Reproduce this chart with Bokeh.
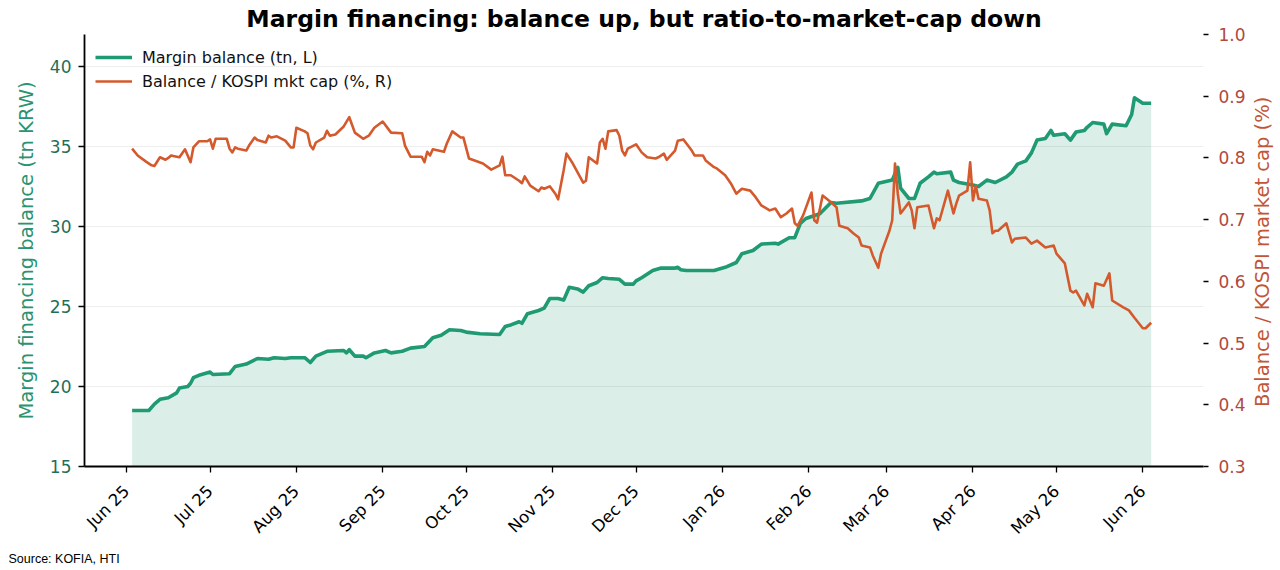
import math
from datetime import datetime, timedelta

from bokeh.plotting import figure
from bokeh.layouts import row
from bokeh.models import (Range1d, LinearAxis, FixedTicker, DatetimeTickFormatter,
                          PrintfTickFormatter, Title, Div)
from bokeh.embed import file_html
from bokeh.resources import INLINE

# ---------------- data ----------------
bal_dates = [
    "2025-06-03", "2025-06-09", "2025-06-11", "2025-06-13", "2025-06-16", "2025-06-19",
    "2025-06-20", "2025-06-23", "2025-06-24", "2025-06-25", "2025-06-27", "2025-07-01",
    "2025-07-02", "2025-07-08", "2025-07-10", "2025-07-14", "2025-07-18", "2025-07-22",
    "2025-07-24", "2025-07-28", "2025-07-30", "2025-08-04", "2025-08-06", "2025-08-08",
    "2025-08-12", "2025-08-18", "2025-08-19", "2025-08-20", "2025-08-22", "2025-08-25",
    "2025-08-26", "2025-08-29", "2025-09-02", "2025-09-04", "2025-09-08", "2025-09-11",
    "2025-09-16", "2025-09-19", "2025-09-22", "2025-09-25", "2025-09-29", "2025-10-01",
    "2025-10-06", "2025-10-13", "2025-10-15", "2025-10-17", "2025-10-20", "2025-10-21",
    "2025-10-23", "2025-10-27", "2025-10-29", "2025-10-31", "2025-11-03", "2025-11-05",
    "2025-11-06", "2025-11-07", "2025-11-10", "2025-11-12", "2025-11-14", "2025-11-17",
    "2025-11-19", "2025-11-21", "2025-11-25", "2025-11-27", "2025-11-30", "2025-12-01",
    "2025-12-03", "2025-12-07", "2025-12-10", "2025-12-15", "2025-12-16", "2025-12-17",
    "2025-12-19", "2025-12-29", "2026-01-02", "2026-01-06", "2026-01-08", "2026-01-12",
    "2026-01-15", "2026-01-20", "2026-01-21", "2026-01-25", "2026-01-27", "2026-01-29",
    "2026-01-31", "2026-02-05", "2026-02-09", "2026-02-11", "2026-02-20", "2026-02-23",
    "2026-02-26", "2026-03-03", "2026-03-05", "2026-03-06", "2026-03-09", "2026-03-11",
    "2026-03-13", "2026-03-16", "2026-03-18", "2026-03-19", "2026-03-24", "2026-03-25",
    "2026-03-27", "2026-04-01", "2026-04-03", "2026-04-06", "2026-04-09", "2026-04-13",
    "2026-04-15", "2026-04-17", "2026-04-20", "2026-04-22", "2026-04-24", "2026-04-27",
    "2026-04-29", "2026-04-30", "2026-05-04", "2026-05-06", "2026-05-08", "2026-05-11",
    "2026-05-12", "2026-05-14", "2026-05-18", "2026-05-19", "2026-05-21", "2026-05-26",
    "2026-05-28", "2026-05-29", "2026-06-01", "2026-06-04",
]
bal_values = [
    18.5, 18.5, 18.9, 19.2, 19.3, 19.6,
    19.9, 20.0, 20.2, 20.55, 20.7, 20.9,
    20.75, 20.8, 21.25, 21.4, 21.75, 21.7,
    21.8, 21.75, 21.8, 21.8, 21.5, 21.9,
    22.2, 22.25, 22.1, 22.3, 21.9, 21.9,
    21.8, 22.1, 22.25, 22.1, 22.2, 22.4,
    22.5, 23.05, 23.2, 23.55, 23.5, 23.4,
    23.3, 23.25, 23.75, 23.85, 24.05, 23.95,
    24.55, 24.75, 24.9, 25.5, 25.5, 25.4,
    25.8, 26.2, 26.1, 25.9, 26.3, 26.5,
    26.8, 26.75, 26.7, 26.4, 26.4, 26.6,
    26.8, 27.25, 27.4, 27.4, 27.45, 27.3,
    27.25, 27.25, 27.45, 27.75, 28.3, 28.5,
    28.9, 28.95, 28.9, 29.3, 29.3, 30.2,
    30.5, 30.8, 31.5, 31.45, 31.6, 31.75,
    32.7, 32.9, 33.7, 32.4, 31.75, 31.75,
    32.7, 33.1, 33.4, 33.3, 33.4, 32.9,
    32.75, 32.6, 32.5, 32.9, 32.75, 33.1,
    33.4, 33.9, 34.1, 34.6, 35.4, 35.5,
    36.0, 35.7, 35.8, 35.4, 35.9, 36.0,
    36.2, 36.5, 36.4, 35.8, 36.4, 36.3,
    37.0, 38.05, 37.7, 37.7,
]

ratio_dates = [
    "2025-06-03", "2025-06-05", "2025-06-08", "2025-06-10", "2025-06-11", "2025-06-13",
    "2025-06-15", "2025-06-16", "2025-06-17", "2025-06-19", "2025-06-20", "2025-06-22",
    "2025-06-24", "2025-06-25", "2025-06-27", "2025-06-30", "2025-07-01", "2025-07-02",
    "2025-07-03", "2025-07-07", "2025-07-08", "2025-07-09", "2025-07-10", "2025-07-11",
    "2025-07-14", "2025-07-15", "2025-07-17", "2025-07-18", "2025-07-21", "2025-07-22",
    "2025-07-23", "2025-07-25", "2025-07-28", "2025-07-30", "2025-07-31", "2025-08-01",
    "2025-08-04", "2025-08-05", "2025-08-06", "2025-08-07", "2025-08-08", "2025-08-11",
    "2025-08-12", "2025-08-13", "2025-08-15", "2025-08-18", "2025-08-20", "2025-08-22",
    "2025-08-25", "2025-08-27", "2025-08-29", "2025-09-01", "2025-09-04", "2025-09-08",
    "2025-09-09", "2025-09-11", "2025-09-15", "2025-09-16", "2025-09-17", "2025-09-18",
    "2025-09-19", "2025-09-23", "2025-09-24", "2025-09-26", "2025-09-29", "2025-09-30",
    "2025-10-02", "2025-10-07", "2025-10-10", "2025-10-13", "2025-10-14", "2025-10-15",
    "2025-10-17", "2025-10-20", "2025-10-21", "2025-10-22", "2025-10-24", "2025-10-27",
    "2025-10-28", "2025-10-29", "2025-10-31", "2025-11-02", "2025-11-03", "2025-11-05",
    "2025-11-06", "2025-11-08", "2025-11-12", "2025-11-13", "2025-11-14", "2025-11-17",
    "2025-11-18", "2025-11-19", "2025-11-20", "2025-11-21", "2025-11-24", "2025-11-25",
    "2025-11-26", "2025-11-27", "2025-11-28", "2025-12-01", "2025-12-03", "2025-12-05",
    "2025-12-08", "2025-12-09", "2025-12-11", "2025-12-12", "2025-12-15", "2025-12-16",
    "2025-12-18", "2025-12-21", "2025-12-22", "2025-12-25", "2025-12-26", "2025-12-29",
    "2025-12-30", "2026-01-02", "2026-01-04", "2026-01-06", "2026-01-08", "2026-01-11",
    "2026-01-13", "2026-01-15", "2026-01-18", "2026-01-20", "2026-01-22", "2026-01-24",
    "2026-01-26", "2026-01-27", "2026-01-28", "2026-01-30", "2026-02-02", "2026-02-03",
    "2026-02-04", "2026-02-06", "2026-02-09", "2026-02-11", "2026-02-12", "2026-02-15",
    "2026-02-17", "2026-02-19", "2026-02-20", "2026-02-23", "2026-02-24", "2026-02-26",
    "2026-02-27", "2026-03-02", "2026-03-03", "2026-03-04", "2026-03-05", "2026-03-06",
    "2026-03-09", "2026-03-10", "2026-03-11", "2026-03-12", "2026-03-16", "2026-03-18",
    "2026-03-19", "2026-03-20", "2026-03-23", "2026-03-25", "2026-03-26", "2026-03-27",
    "2026-03-30", "2026-03-31", "2026-04-01", "2026-04-02", "2026-04-03", "2026-04-06",
    "2026-04-07", "2026-04-08", "2026-04-09", "2026-04-10", "2026-04-13", "2026-04-15",
    "2026-04-16", "2026-04-20", "2026-04-22", "2026-04-24", "2026-04-27", "2026-04-30",
    "2026-05-01", "2026-05-04", "2026-05-06", "2026-05-07", "2026-05-08", "2026-05-11",
    "2026-05-12", "2026-05-14", "2026-05-15", "2026-05-18", "2026-05-20", "2026-05-21",
    "2026-05-25", "2026-05-27", "2026-05-29", "2026-06-01", "2026-06-02", "2026-06-04",
]
ratio_values = [
    0.815, 0.804, 0.794, 0.788, 0.787, 0.801,
    0.797, 0.800, 0.804, 0.802, 0.801, 0.814,
    0.793, 0.817, 0.827, 0.827, 0.830, 0.815,
    0.831, 0.831, 0.815, 0.809, 0.817, 0.815,
    0.812, 0.820, 0.833, 0.829, 0.825, 0.836,
    0.833, 0.835, 0.828, 0.817, 0.817, 0.849,
    0.843, 0.840, 0.820, 0.814, 0.825, 0.833,
    0.844, 0.836, 0.838, 0.851, 0.866, 0.841,
    0.831, 0.836, 0.849, 0.859, 0.841, 0.840,
    0.820, 0.802, 0.802, 0.793, 0.810, 0.804,
    0.814, 0.810, 0.823, 0.843, 0.833, 0.833,
    0.799, 0.791, 0.781, 0.788, 0.802, 0.772,
    0.772, 0.763, 0.759, 0.770, 0.755, 0.746,
    0.752, 0.750, 0.754, 0.742, 0.733, 0.780,
    0.807, 0.793, 0.760, 0.763, 0.801, 0.791,
    0.825, 0.831, 0.815, 0.843, 0.845, 0.836,
    0.812, 0.804, 0.815, 0.822, 0.809, 0.801,
    0.799, 0.801, 0.807, 0.797, 0.812, 0.828,
    0.830, 0.812, 0.804, 0.804, 0.796, 0.785,
    0.783, 0.772, 0.759, 0.742, 0.750, 0.747,
    0.736, 0.723, 0.715, 0.718, 0.704, 0.710,
    0.718, 0.694, 0.690, 0.707, 0.744, 0.699,
    0.695, 0.739, 0.728, 0.720, 0.690, 0.686,
    0.678, 0.671, 0.658, 0.655, 0.642, 0.622,
    0.645, 0.682, 0.699, 0.791, 0.742, 0.710,
    0.728, 0.715, 0.686, 0.720, 0.723, 0.686,
    0.702, 0.699, 0.747, 0.710, 0.726, 0.739,
    0.747, 0.793, 0.731, 0.755, 0.734, 0.731,
    0.715, 0.678, 0.682, 0.682, 0.694, 0.663,
    0.669, 0.671, 0.661, 0.666, 0.655, 0.658,
    0.645, 0.629, 0.585, 0.582, 0.585, 0.561,
    0.580, 0.558, 0.597, 0.593, 0.613, 0.569,
    0.558, 0.553, 0.541, 0.524, 0.524, 0.533,
]

month_ticks = [
    "2025-06-01", "2025-07-01", "2025-08-01", "2025-09-01", "2025-10-01", "2025-11-01",
    "2025-12-01", "2026-01-01", "2026-02-01", "2026-03-01", "2026-04-01", "2026-05-01",
    "2026-06-01",
]
left_ticks = [15, 20, 25, 30, 35, 40]
right_ticks = [0.3, 0.4, 0.5, 0.6, 0.7, 0.8, 0.9, 1.0]

TITLE = "Margin financing: balance up, but ratio-to-market-cap down"
LEFT_LABEL = "Margin financing balance (tn KRW)"
RIGHT_LABEL = "Balance / KOSPI market cap (%)"
BAL_LEGEND = "Margin balance (tn, L)"
RATIO_LEGEND = "Balance / KOSPI mkt cap (%, R)"
SOURCE = "Source: KOFIA, HTI"

# ---------------- styling ----------------
GREEN = "#1f9a73"
ORANGE = "#d45a2e"
LEFT_TICK_COLOR = "#1f6e58"
LEFT_LABEL_COLOR = "#2a9372"
RIGHT_TICK_COLOR = "#b04a3c"
RIGHT_LABEL_COLOR = "#c35537"
FONT = "DejaVu Sans"

LEFT_MIN, LEFT_MAX = 15, 42
RIGHT_MIN, RIGHT_MAX = 0.3, 1.0


def to_dt(s):
    return datetime.strptime(s, "%Y-%m-%d")


EPOCH = datetime(1970, 1, 1)


def to_ms(d):
    return (d - EPOCH).total_seconds() * 1000.0


bal_dt = [to_dt(s) for s in bal_dates]
ratio_dt = [to_dt(s) for s in ratio_dates]
tick_ms = [to_ms(to_dt(s)) for s in month_ticks]

anchor = to_dt(month_ticks[0])
x_start = anchor - timedelta(days=15.1)
x_end = anchor + timedelta(days=386.8)

PAGE_W, H = 1280, 570
LABEL_W = 29
W = PAGE_W - LABEL_W
ML, MT, MB = 84, 34, 104
MR = W - 1203

p = figure(width=W, height=H, x_axis_type="datetime",
           x_range=Range1d(x_start, x_end), y_range=Range1d(LEFT_MIN, LEFT_MAX),
           output_backend="svg", toolbar_location=None,
           min_border_left=ML, min_border_right=MR, min_border_top=MT, min_border_bottom=MB)
p.extra_y_ranges = {"ratio": Range1d(RIGHT_MIN, RIGHT_MAX)}
p.outline_line_color = None
p.background_fill_color = "white"
p.border_fill_color = "white"

# title
p.title.text = TITLE
p.title.align = "center"
p.title.text_font = FONT
p.title.text_font_size = "23.5px"
p.title.text_font_style = "bold"
p.title.text_color = "black"
p.title.standoff = 4

# area + lines
p.varea(x=bal_dt, y1=LEFT_MIN, y2=bal_values, fill_color=GREEN, fill_alpha=0.16)
p.line(bal_dt, bal_values, line_color=GREEN, line_width=3.6, legend_label=BAL_LEGEND,
       line_join="round")
p.line(ratio_dt, ratio_values, line_color=ORANGE, line_width=2.6, legend_label=RATIO_LEGEND,
       y_range_name="ratio", line_join="round")

# grid
p.xgrid.visible = False
p.ygrid.ticker = FixedTicker(ticks=left_ticks)
p.ygrid.grid_line_color = "#eeeeee"
p.ygrid.grid_line_width = 1

# left axis
ya = p.left[0]
ya.ticker = FixedTicker(ticks=left_ticks)
ya.axis_label = LEFT_LABEL
ya.axis_label_text_font = FONT
ya.axis_label_text_font_size = "19.5px"
ya.axis_label_text_font_style = "normal"
ya.axis_label_text_color = LEFT_LABEL_COLOR
ya.axis_label_standoff = 9
ya.major_label_text_font = FONT
ya.major_label_text_font_size = "17px"
ya.major_label_text_color = LEFT_TICK_COLOR
ya.major_label_standoff = 7
ya.axis_line_color = "black"
ya.axis_line_width = 1.8
ya.major_tick_line_color = "black"
ya.major_tick_line_width = 1.3
ya.major_tick_out = 6
ya.major_tick_in = 0
ya.minor_tick_line_color = None

# bottom axis
xa = p.below[0]
xa.ticker = FixedTicker(ticks=tick_ms)
xa.formatter = DatetimeTickFormatter(months="%b %y", days="%b %y", years="%b %y",
                                     hours="%b %y", minutes="%b %y")
xa.major_label_orientation = math.pi / 4
xa.major_label_text_font = FONT
xa.major_label_text_font_size = "16.5px"
xa.major_label_text_color = "black"
xa.major_label_standoff = 16
xa.axis_line_color = "black"
xa.axis_line_width = 1.8
xa.major_tick_line_color = "black"
xa.major_tick_line_width = 1.3
xa.major_tick_out = 6
xa.major_tick_in = 0
xa.minor_tick_line_color = None

# right axis
ra = LinearAxis(y_range_name="ratio", ticker=FixedTicker(ticks=right_ticks),
                formatter=PrintfTickFormatter(format="%.1f"))
ra.axis_line_color = None
ra.major_tick_line_color = "black"
ra.major_tick_line_width = 1.3
ra.major_tick_out = 5
ra.major_tick_in = 0
ra.minor_tick_line_color = None
ra.major_label_text_font = FONT
ra.major_label_text_font_size = "17px"
ra.major_label_text_color = RIGHT_TICK_COLOR
ra.major_label_standoff = 10
p.add_layout(ra, "right")

# legend
lg = p.legend[0]
lg.location = "top_left"
lg.border_line_color = None
lg.background_fill_alpha = 0
lg.label_text_font = FONT
lg.label_text_font_size = "16px"
lg.label_text_color = "#111111"
lg.glyph_width = 37
lg.glyph_height = 24
lg.label_height = 24
lg.spacing = 0
lg.padding = 0
lg.margin = 11
lg.label_standoff = 10

# source note below the x axis
src = Title(text=SOURCE, align="left", offset=-76, standoff=4,
            text_font="Liberation Sans", text_font_size="12.5px",
            text_font_style="normal", text_color="black")
p.add_layout(src, "below")

# right-axis title, reading bottom-to-top like the reference
label_html = (
    '<div style="writing-mode: vertical-rl; transform: rotate(180deg); '
    'height: 504px; width: 24px; text-align: center; white-space: nowrap; '
    f'line-height: 24px; font-family: \'{FONT}\'; font-size: 19.5px; '
    f'color: {RIGHT_LABEL_COLOR}; margin: 0; padding: 0;">{RIGHT_LABEL}</div>'
)
right_label = Div(text=label_html, width=LABEL_W, height=H,
                  styles={"margin": "0", "padding": "0", "overflow": "visible"})

layout = row(p, right_label, spacing=0)

open("out.html", "w").write(file_html(layout, INLINE))
